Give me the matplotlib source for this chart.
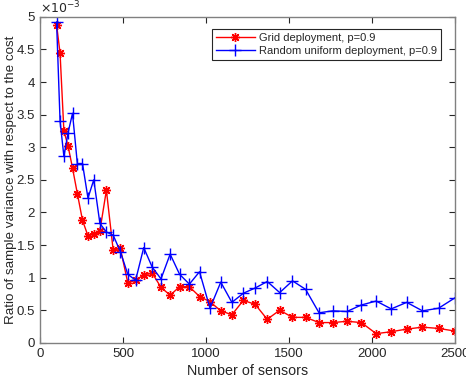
import numpy as np
import matplotlib
matplotlib.use("Agg")
import matplotlib.pyplot as plt
from matplotlib.ticker import FuncFormatter

# Number of sensors (grid sizes 10x10 ... 50x50)
sensors = [100, 121, 144, 169, 196, 225, 256, 289, 324, 361,
           400, 441, 484, 529, 576, 625, 676, 729, 784, 841,
           900, 961, 1024, 1089, 1156, 1225, 1296, 1369, 1444, 1521,
           1600, 1681, 1764, 1849, 1936, 2025, 2116, 2209, 2304, 2401, 2500]

# Ratios, in units of 1e-3
grid_ratio = [4.88, 4.44, 3.25, 3.02, 2.68, 2.29, 1.88, 1.64, 1.67, 1.72,
              2.34, 1.42, 1.45, 0.92, 0.96, 1.04, 1.07, 0.85, 0.73, 0.86,
              0.86, 0.71, 0.63, 0.49, 0.43, 0.65, 0.59, 0.36, 0.50, 0.39,
              0.39, 0.31, 0.31, 0.33, 0.31, 0.14, 0.17, 0.21, 0.24, 0.22, 0.18]
random_ratio = [4.92, 3.40, 2.86, 3.22, 3.52, 2.75, 2.75, 2.22, 2.50, 1.83,
                1.70, 1.65, 1.40, 1.05, 0.96, 1.46, 1.16, 0.98, 1.36, 1.05,
                0.90, 1.09, 0.53, 0.93, 0.62, 0.76, 0.84, 0.94, 0.77, 0.95,
                0.82, 0.46, 0.49, 0.48, 0.58, 0.64, 0.52, 0.62, 0.49, 0.53, 0.69]

labels = ["Grid deployment, p=0.9", "Random uniform deployment, p=0.9"]

plt.rcParams['font.family'] = ['Liberation Sans', 'DejaVu Sans']
grey = '#262626'

fig = plt.figure(figsize=(4.66, 3.83), dpi=100)
ax = fig.add_axes([0.0858, 0.105, 0.8906, 0.851])

ax.plot(sensors, np.array(grid_ratio) * 1e-3, color='red', lw=1.0,
        marker=(8, 2, 0), markersize=6.5, markeredgewidth=1.0, label=labels[0])
ax.plot(sensors, np.array(random_ratio) * 1e-3, color='blue', lw=1.0,
        marker='+', markersize=8, markeredgewidth=1.0, label=labels[1])

ax.set_xlim(0, 2500)
ax.set_ylim(0, 5e-3)
ax.set_xticks(np.arange(0, 2501, 500))
ax.set_yticks(np.arange(0, 5.01e-3, 0.5e-3))
ax.yaxis.set_major_formatter(FuncFormatter(lambda v, p: "%g" % round(v * 1e3, 2)))
ax.text(0, 1.003, r"$\times10^{-3}$", transform=ax.transAxes, fontsize=9,
        color=grey, ha='left', va='bottom')

ax.tick_params(direction='in', top=True, right=True, length=4, width=0.8,
               colors=grey, labelsize=9.5, labelcolor=grey)
for s in ax.spines.values():
    s.set_color('#808080')
    s.set_linewidth(1.0)

ax.set_xlabel("Number of sensors", fontsize=10.3, color=grey, labelpad=3)
ax.set_ylabel("Ratio of sample variance with respect to the cost",
              fontsize=9.6, color=grey)
ax.yaxis.set_label_coords(-0.056, 0.5)

leg = ax.legend(loc='upper right', bbox_to_anchor=(0.966, 0.962), fontsize=8,
                fancybox=False, framealpha=1, edgecolor=grey,
                handlelength=3.5, borderpad=0.35, labelspacing=0.25,
                handletextpad=0.4, borderaxespad=0)
leg.get_frame().set_linewidth(0.8)
for t in leg.get_texts():
    t.set_color(grey)

fig.savefig("out.png", dpi=100)
